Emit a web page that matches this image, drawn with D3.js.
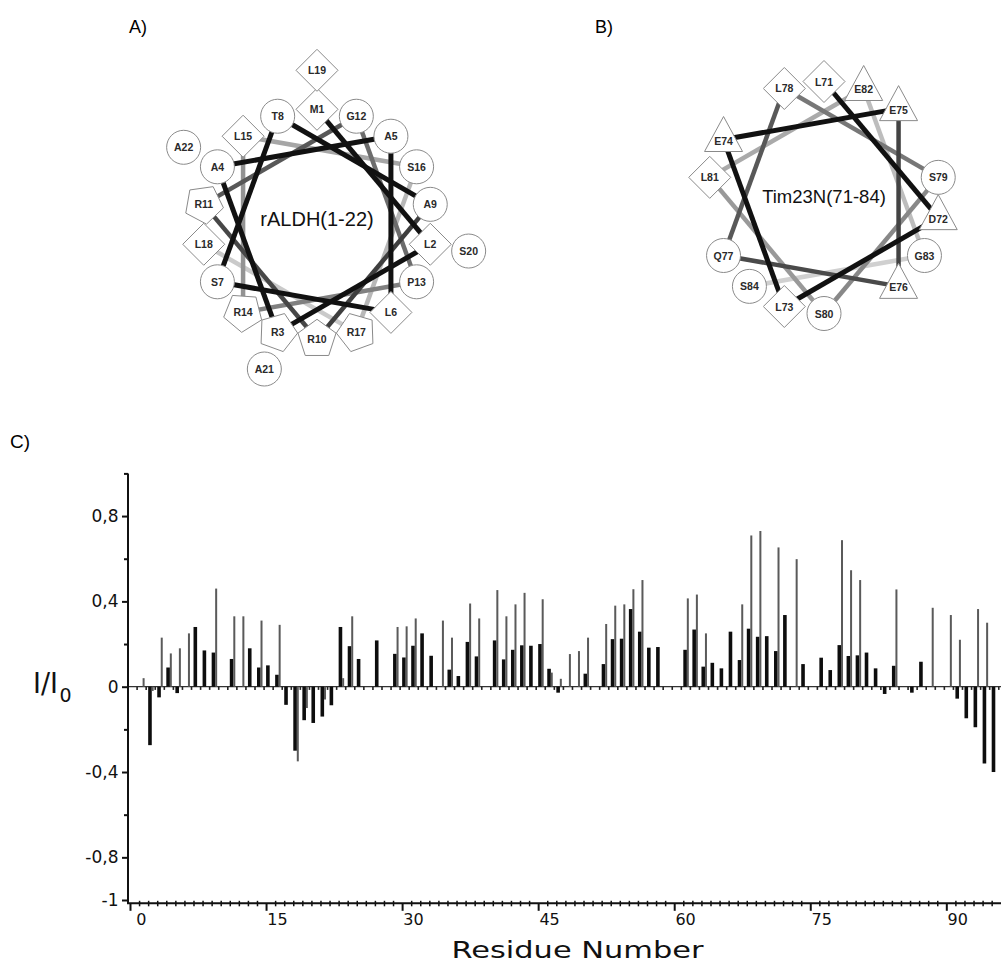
<!DOCTYPE html>
<html><head><meta charset="utf-8">
<script src="https://cdn.jsdelivr.net/npm/d3@7"></script>
<style>body{margin:0;background:#fff}svg{display:block}</style>
</head><body>
<svg id="c" width="1001" height="962"></svg>
<script>
// ---------------- DATA ----------------
const residues = d3.range(0, 95);
// black (thick) bars, I/I0 per residue (null = no bar)
const blackVals = [
 null,-0.274,-0.05,0.09,-0.03,null,0.28,0.17,0.16,null,
 0.13,null,0.18,0.09,0.10,0.056,-0.085,-0.30,-0.157,-0.17,
 -0.14,-0.087,0.28,0.19,0.13,null,0.217,null,0.154,0.137,
 0.192,0.25,0.145,null,0.08,0.05,0.21,0.142,null,0.217,
 0.128,0.173,0.194,0.192,0.2,0.084,-0.028,null,null,0.061,
 null,0.106,0.223,0.225,0.364,0.258,0.183,0.186,null,null,
 0.173,0.268,0.094,0.112,0.086,0.258,0.125,0.272,0.234,0.237,
 0.167,0.336,null,0.106,null,0.136,0.078,0.195,0.144,0.147,
 0.16,0.086,-0.034,0.098,null,-0.028,0.117,null,null,null,
 -0.056,-0.148,-0.19,-0.36,-0.40
];
// grey (thin) bars
const grayVals = [
 0.04,-0.02,0.23,0.156,0.18,0.25,null,null,0.46,null,
 0.33,0.33,null,0.31,null,0.29,null,-0.35,-0.10,null,
 -0.06,null,0.04,0.33,null,null,null,null,0.28,0.283,
 0.32,null,null,0.31,0.23,null,0.39,0.32,null,0.453,
 0.33,0.386,0.44,null,0.41,0.066,0.037,0.153,0.167,0.23,
 null,0.294,0.38,0.386,0.457,0.50,null,null,null,null,
 0.414,0.432,0.25,null,null,null,0.386,0.709,0.73,null,
 0.653,null,0.598,null,null,null,null,0.687,0.546,0.50,
 null,null,null,0.456,null,null,null,0.37,null,0.336,
 0.22,null,0.364,0.30,null
];
const yTicks = [1,0.8,0.6,0.4,0.2,0,-0.2,-0.4,-0.6,-0.8,-1];
const yLabelTicks = [0.8,0.4,0,-0.4,-0.8,-1];
const xLabelTicks = [0,15,30,45,60,75,90];
const xMinorTicks = d3.range(0, 96);

// helical wheels
const wheelANames = ["M1","L2","R3","A4","A5","L6","S7","T8","A9","R10","R11","G12","P13","R14","L15","S16","R17","L18","L19","S20","A21","A22"];
const wheelAColors = ["#111","#111","#111","#111","#111","#111","#111","#111","#3e3e3e","#474747","#585858","#6c6c6c","#808080","#939393","#a6a6a6","#b8b8b8","#cacaca"];
const wheelBNames = ["L71","D72","L73","E74","E75","E76","Q77","L78","S79","S80","L81","E82","G83","S84"];
const wheelBColors = ["#111","#111","#111","#111","#434343","#4a4a4a","#585858","#777777","#888888","#999999","#aaaaaa","#bdbdbd","#d0d0d0"];
const shapeOf = {L:"diamond",M:"diamond",R:"pentagon",E:"triangle",D:"triangle"};

// ---------------- DRAW ----------------
const svg = d3.select("#c");
const FONT = "'DejaVu Sans', Verdana, sans-serif";
const AFONT = "'Liberation Sans', Arial, sans-serif";

// panel labels
svg.append("text").attr("x",129).attr("y",33).attr("font-family",AFONT).attr("font-size",18).text("A)");
svg.append("text").attr("x",595).attr("y",33).attr("font-family",AFONT).attr("font-size",18).text("B)");
svg.append("text").attr("x",10).attr("y",448).attr("font-family",AFONT).attr("font-size",19).text("C)");

function wheel(cx, cy, R, Rout, perRing, names, colors, title, titleSize, titleDy) {
  const g = svg.append("g");
  const pos = names.map((n,i) => {
    const a = (i*100 % 360) * Math.PI/180;
    const rr = i < perRing ? R : Rout;
    return {name:n, a, x: cx + rr*Math.sin(a), y: cy - rr*Math.cos(a), shape: shapeOf[n[0]] || "circle"};
  });
  const segs = d3.range(0, Math.min(perRing, names.length)-1).map(i => ({s:pos[i], t:pos[i+1], c:colors[i]}));
  segs.slice().reverse().forEach(d => {
    g.append("line").attr("x1",d.s.x).attr("y1",d.s.y).attr("x2",d.t.x).attr("y2",d.t.y)
     .attr("stroke",d.c).attr("stroke-width", d.c==="#111"?5:4.5).attr("stroke-linecap","butt");
  });
  pos.forEach(p => {
    let el;
    if (p.shape === "circle") {
      el = g.append("circle").attr("cx",p.x).attr("cy",p.y).attr("r",17);
    } else if (p.shape === "diamond") {
      el = g.append("path").attr("d",`M${p.x},${p.y-21}L${p.x+21},${p.y}L${p.x},${p.y+21}L${p.x-21},${p.y}Z`);
    } else if (p.shape === "triangle") {
      el = g.append("path").attr("d",`M${p.x},${p.y-23}L${p.x+19},${p.y+12}L${p.x-19},${p.y+12}Z`);
    } else {
      const o = p.a + Math.PI;
      const pts = d3.range(5).map(k => {
        const t = o + k*2*Math.PI/5;
        return [p.x + 20*Math.sin(t), p.y - 20*Math.cos(t)];
      });
      el = g.append("path").attr("d","M"+pts.map(q=>q.join(",")).join("L")+"Z");
    }
    el.attr("fill","#fff").attr("stroke","#8a8a8a").attr("stroke-width",1);
    g.append("text").attr("x",p.x).attr("y",p.y + (p.shape==="triangle"?5:4))
     .attr("text-anchor","middle").attr("font-family",AFONT).attr("font-weight","bold")
     .attr("font-size",10.5).attr("fill","#2a2a2a").text(p.name);
  });
  g.append("text").attr("x",cx).attr("y",cy+titleDy).attr("text-anchor","middle")
   .attr("font-family",AFONT).attr("font-size",titleSize).attr("fill","#111").text(title);
}
wheel(317, 224.3, 115, 154, 18, wheelANames, wheelAColors, "rALDH(1-22)", 20, 1.5);
wheel(824, 197.5, 116, 116, 14, wheelBNames, wheelBColors, "Tim23N(71-84)", 18.5, 5.5);

// ---- bar chart ----
const x = d3.scaleLinear().domain([0, 94]).range([140.9, 993.5]);
const xTick = d3.scaleLinear().domain([0, 94]).range([130, 982.6]);
const y = d3.scaleLinear().domain([-1, 1]).range([900, 473.4]);
const y0 = y(0);

// zero line with small residue ticks
svg.append("line").attr("x1",128).attr("x2",1001).attr("y1",y0).attr("y2",y0).attr("stroke","#333").attr("stroke-width",1.3);
svg.append("g").selectAll("line").data(xMinorTicks).join("line")
  .attr("x1",d=>x(d)-3.8).attr("x2",d=>x(d)-3.8).attr("y1",y0).attr("y2",y0+3.2)
  .attr("stroke","#222").attr("stroke-width",1.6);

const bdata = residues.map(r => ({r, v: blackVals[r]})).filter(d => d.v !== null);
const gdata = residues.map(r => ({r, v: grayVals[r]})).filter(d => d.v !== null);
svg.append("g").selectAll("rect").data(bdata).join("rect")
  .attr("x",d=>x(d.r)-1.8).attr("width",3.6)
  .attr("y",d=>Math.min(y(d.v),y0)).attr("height",d=>Math.abs(y(d.v)-y0))
  .attr("fill","#0d0d0d");
svg.append("g").selectAll("rect").data(gdata).join("rect")
  .attr("x",d=>x(d.r)+1.7).attr("width",2)
  .attr("y",d=>Math.min(y(d.v),y0)).attr("height",d=>Math.abs(y(d.v)-y0))
  .attr("fill","#5a5a5a");

// y axis
const fmt = d => d === 0 ? "0" : String(d).replace(".", ",");
const yAx = svg.append("g").attr("transform","translate(128,0)")
  .call(d3.axisLeft(y).tickValues(yTicks).tickSizeOuter(0)
        .tickFormat(d => yLabelTicks.includes(d) ? fmt(d) : ""));
yAx.select(".domain").remove();
yAx.selectAll(".tick line").attr("x2", d => yLabelTicks.includes(d) ? -6 : -4).attr("stroke","#111").attr("stroke-width",2);
yAx.selectAll(".tick text").attr("x",-9.5).attr("font-family",FONT).attr("font-size",17).attr("fill","#111");
svg.append("line").attr("x1",128).attr("x2",128).attr("y1",y(1)).attr("y2",904).attr("stroke","#111").attr("stroke-width",2);

// x axis
svg.append("line").attr("x1",127).attr("x2",1001).attr("y1",903.3).attr("y2",903.3).attr("stroke","#111").attr("stroke-width",2);
const xAx = svg.append("g").attr("transform","translate(0,903.3)")
  .call(d3.axisBottom(xTick).tickValues(xMinorTicks).tickFormat("").tickSizeOuter(0));
xAx.select(".domain").remove();
xAx.selectAll(".tick line")
  .attr("y1", d => d % 15 === 0 ? 0 : -2.5)
  .attr("y2", d => d % 15 === 0 ? 7.5 : 3)
  .attr("stroke","#111").attr("stroke-width",d => d % 15 === 0 ? 2 : 1.5);
const xLab = svg.append("g").attr("transform","translate(0,903.3)")
  .call(d3.axisBottom(x).tickValues(xLabelTicks).tickSize(0).tickPadding(10).tickFormat(d=>String(d)));
xLab.select(".domain").remove();
xLab.selectAll(".tick text").attr("font-family",FONT).attr("font-size",16).attr("fill","#111");

// axis titles
svg.append("text").attr("x",577.5).attr("y",957.5).attr("text-anchor","middle")
  .attr("font-family",FONT).attr("font-size",23).attr("textLength",252).attr("lengthAdjust","spacingAndGlyphs")
  .attr("fill","#111").text("Residue Number");
svg.append("text").attr("x",33).attr("y",693.3).attr("font-family",FONT).attr("font-size",29)
  .attr("textLength",25).attr("lengthAdjust","spacingAndGlyphs").attr("fill","#111").text("I/I");
svg.append("text").attr("x",59.5).attr("y",701.5).attr("font-family",FONT).attr("font-size",19).attr("fill","#111").text("0");
</script>
</body></html>
